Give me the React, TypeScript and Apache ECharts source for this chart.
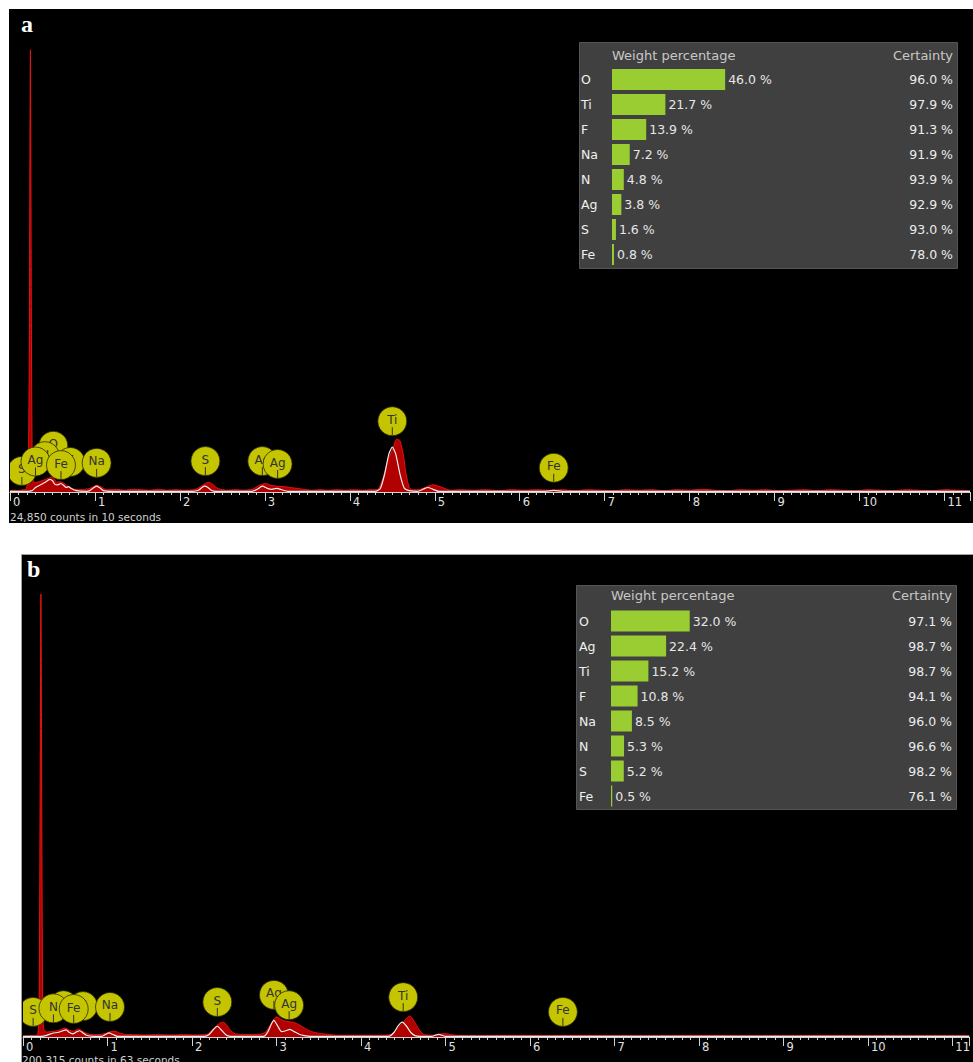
import React, { useEffect, useRef } from "react";
import * as echarts from "echarts";

// ---------- Panel a ----------
// Measured spectrum: [energy keV, intensity as % of full scale]
const measuredA: [number, number][] = [
  [0.0, 0.3], [0.05, 0.4], [0.1, 0.3], [0.15, 0.5], [0.19, 0.6], [0.215, 4], [0.228, 35], [0.24, 98.7], [0.252, 35], [0.262, 6], [0.275, 2.4],
  [0.3, 2.1], [0.34, 2.3], [0.39, 2.6], [0.44, 3.0], [0.49, 3.3], [0.52, 2.9], [0.55, 2.2], [0.59, 2.3], [0.63, 2.0], [0.67, 1.4], [0.71, 1.0], [0.76, 0.6], [0.82, 0.5], [0.88, 0.6],
  [0.94, 0.8], [0.98, 1.2], [1.02, 1.5], [1.06, 1.3], [1.1, 0.8], [1.15, 0.5],
  [1.25, 0.6], [1.35, 0.4], [1.45, 0.6], [1.55, 0.5], [1.65, 0.4], [1.75, 0.6], [1.85, 0.4], [1.95, 0.5], [2.05, 0.4], [2.15, 0.5],
  [2.2, 0.7], [2.25, 1.3], [2.3, 1.9], [2.34, 2.2], [2.38, 1.8], [2.43, 1.0], [2.48, 0.6],
  [2.55, 0.4], [2.65, 0.5], [2.75, 0.4], [2.85, 0.6], [2.9, 1.1], [2.96, 1.7], [3.01, 1.9], [3.07, 1.5], [3.14, 1.3], [3.22, 1.2], [3.3, 1.0], [3.38, 0.8], [3.46, 0.6],
  [3.55, 0.4], [3.65, 0.5], [3.75, 0.4], [3.85, 0.5], [3.95, 0.4], [4.05, 0.5], [4.15, 0.4], [4.25, 0.5], [4.33, 0.6],
  [4.39, 3.1], [4.45, 7.2], [4.51, 9.8], [4.55, 11.8], [4.59, 11.5], [4.63, 8.3], [4.66, 4.2], [4.7, 1.0], [4.74, 0.5],
  [4.8, 0.5], [4.86, 0.8], [4.92, 1.3], [4.98, 1.6], [5.03, 1.4], [5.09, 1.0], [5.13, 0.7], [5.18, 0.4],
  [5.3, 0.5], [5.45, 0.4], [5.6, 0.5], [5.75, 0.3], [5.9, 0.5], [6.05, 0.4], [6.2, 0.5], [6.35, 0.4], [6.5, 0.5], [6.65, 0.3], [6.8, 0.5], [6.95, 0.4],
  [7.1, 0.3], [7.25, 0.5], [7.4, 0.4], [7.55, 0.5], [7.7, 0.3], [7.85, 0.5], [8.0, 0.4], [8.15, 0.6], [8.3, 0.4], [8.45, 0.3], [8.6, 0.5], [8.75, 0.4],
  [8.9, 0.5], [9.05, 0.3], [9.2, 0.4], [9.35, 0.5], [9.5, 0.3], [9.65, 0.5], [9.8, 0.4], [9.95, 0.3], [10.1, 0.5], [10.25, 0.4], [10.4, 0.3], [10.55, 0.5],
  [10.7, 0.4], [10.85, 0.3], [11.0, 0.5], [11.15, 0.4], [11.3, 0.3],
];
// Fitted (calculated) spectrum
const fittedA: [number, number][] = [
  [0.0, 0.15], [0.2, 0.15], [0.26, 0.3], [0.3, 1.0], [0.36, 1.6], [0.41, 2.1], [0.47, 2.8], [0.5, 2.5], [0.53, 1.7], [0.56, 1.6], [0.6, 1.9], [0.63, 1.5],
  [0.66, 1.0], [0.69, 1.2], [0.72, 0.8], [0.78, 0.3], [0.9, 0.15],
  [0.94, 0.3], [0.98, 0.9], [1.02, 1.3], [1.06, 0.9], [1.1, 0.3], [1.2, 0.15],
  [2.15, 0.15], [2.22, 0.4], [2.26, 1.0], [2.29, 1.3], [2.33, 1.0], [2.37, 0.4], [2.42, 0.15],
  [2.85, 0.15], [2.91, 0.6], [2.97, 1.3], [3.03, 0.8], [3.08, 0.6], [3.14, 0.8], [3.2, 0.5], [3.27, 0.15],
  [4.3, 0.15], [4.36, 0.8], [4.41, 4.0], [4.46, 8.5], [4.5, 10.0], [4.54, 8.5], [4.59, 4.0], [4.64, 0.9], [4.7, 0.3],
  [4.8, 0.15], [4.86, 0.6], [4.92, 1.0], [4.98, 0.6], [5.05, 0.15],
  [6.3, 0.15], [6.4, 0.35], [6.5, 0.15], [11.3, 0.15],
];
// Element line markers (drawn back to front)
const markerNamesA = ["O", "N", "F", "S", "Ag", "Fe", "Na", "S", "Ag", "Ag", "Ti", "Fe"];
const markerEnergiesA = [0.51, 0.41, 0.71, 0.14, 0.3, 0.6, 1.02, 2.3, 2.97, 3.15, 4.5, 6.4];
const markerLevelsA = [10.3, 8.0, 6.7, 4.7, 6.8, 6.0, 6.5, 6.9, 6.9, 6.25, 15.8, 5.4];
const countsA = "24,850 counts in 10 seconds";
const elementsA = ["O", "Ti", "F", "Na", "N", "Ag", "S", "Fe"];
const weightA = [46.0, 21.7, 13.9, 7.2, 4.8, 3.8, 1.6, 0.8];
const certaintyA = [96.0, 97.9, 91.3, 91.9, 93.9, 92.9, 93.0, 78.0];

// ---------- Panel b ----------
const measuredB: [number, number][] = [
  [0.0, 0.2], [0.08, 0.3], [0.14, 0.3], [0.175, 0.6], [0.19, 6], [0.2, 40], [0.212, 98.9], [0.224, 40], [0.234, 6], [0.245, 1.8],
  [0.28, 1.1], [0.33, 1.2], [0.38, 1.3], [0.44, 1.6], [0.5, 2.0], [0.55, 1.5], [0.6, 1.3], [0.66, 1.8], [0.71, 1.2], [0.77, 0.7], [0.85, 0.5],
  [0.93, 0.6], [0.99, 0.9], [1.04, 1.2], [1.09, 1.3], [1.14, 0.9], [1.2, 0.6], [1.3, 0.5],
  [1.45, 0.45], [1.6, 0.5], [1.75, 0.45], [1.9, 0.5], [2.05, 0.45], [2.14, 0.5],
  [2.19, 0.7], [2.24, 1.6], [2.29, 2.5], [2.33, 3.1], [2.37, 3.3], [2.41, 2.7], [2.45, 1.6], [2.5, 0.8], [2.56, 0.6],
  [2.65, 0.55], [2.75, 0.6], [2.83, 0.7], [2.88, 1.3], [2.93, 2.8], [2.97, 4.0], [3.0, 4.5], [3.04, 4.1], [3.09, 3.6], [3.15, 3.4], [3.2, 3.3],
  [3.28, 2.6], [3.34, 1.9], [3.4, 1.3], [3.48, 0.9], [3.56, 0.7], [3.65, 0.5], [3.71, 0.4],
  [3.85, 0.4], [4.0, 0.4], [4.15, 0.4], [4.28, 0.4],
  [4.36, 0.6], [4.41, 1.4], [4.45, 2.2], [4.5, 3.3], [4.54, 4.2], [4.58, 4.7], [4.62, 3.8], [4.67, 2.2], [4.71, 1.1], [4.75, 0.5],
  [4.85, 0.4], [4.92, 0.6], [5.0, 0.75], [5.07, 0.5], [5.15, 0.35],
  [5.4, 0.3], [5.8, 0.35], [6.2, 0.3], [6.6, 0.35], [7.0, 0.3], [7.5, 0.3], [8.0, 0.35], [8.5, 0.3], [9.0, 0.3], [9.5, 0.35], [10.0, 0.3], [10.5, 0.3], [11.2, 0.3],
];
const fittedB: [number, number][] = [
  [0.0, 0.15], [0.22, 0.15], [0.27, 0.3], [0.31, 0.6], [0.36, 0.9], [0.41, 1.0], [0.46, 1.3], [0.51, 1.6], [0.55, 1.0], [0.59, 0.7], [0.63, 1.1],
  [0.67, 1.4], [0.71, 0.9], [0.75, 0.4], [0.83, 0.15],
  [0.93, 0.15], [0.98, 0.6], [1.02, 0.9], [1.06, 0.6], [1.12, 0.15],
  [2.15, 0.15], [2.2, 0.5], [2.25, 1.6], [2.3, 2.4], [2.35, 1.5], [2.4, 0.5], [2.45, 0.15],
  [2.85, 0.15], [2.9, 1.2], [2.94, 2.9], [2.97, 3.7], [3.01, 2.6], [3.06, 1.2], [3.11, 1.4], [3.16, 1.7], [3.21, 1.2], [3.27, 0.6], [3.33, 0.3], [3.4, 0.15],
  [4.33, 0.15], [4.39, 1.0], [4.44, 2.5], [4.49, 3.3], [4.54, 2.4], [4.59, 1.0], [4.64, 0.3], [4.7, 0.15],
  [4.84, 0.15], [4.92, 0.6], [5.0, 0.15], [11.2, 0.15],
];
const markerNamesB = ["S", "O", "F", "N", "Fe", "Na", "S", "Ag", "Ag", "Ti", "Fe"];
const markerEnergiesB = [0.12, 0.48, 0.71, 0.36, 0.6, 1.03, 2.3, 2.97, 3.15, 4.5, 6.39];
const markerLevelsB = [5.6, 7.1, 6.9, 6.4, 6.25, 6.7, 7.8, 9.4, 7.1, 8.9, 5.6];
const countsB = "200,315 counts in 63 seconds";
const elementsB = ["O", "Ag", "Ti", "F", "Na", "N", "S", "Fe"];
const weightB = [32.0, 22.4, 15.2, 10.8, 8.5, 5.3, 5.2, 0.5];
const certaintyB = [97.1, 98.7, 98.7, 94.1, 96.0, 96.6, 98.2, 76.1];

const FONT = '"DejaVu Sans", sans-serif';
const AXIS_GRAY = "#d2d2d2";

function markerRenderer(names: string[]) {
  return (params: any, api: any) => {
    const p = api.coord([api.value(0), api.value(1)]);
    return {
      type: "group",
      children: [
        { type: "circle", shape: { cx: p[0], cy: p[1], r: 14.5 }, style: { fill: "#c4c400", stroke: "#2c2c00", lineWidth: 0.8 } },
        { type: "line", shape: { x1: p[0], y1: p[1] + 6, x2: p[0], y2: p[1] + 14 }, style: { stroke: "#333", lineWidth: 1 } },
        {
          type: "text",
          style: { text: names[params.dataIndex], x: p[0], y: p[1] - 1.5, align: "center", verticalAlign: "middle", fill: "#333", fontSize: 12, fontFamily: FONT },
        },
      ],
    };
  };
}

function energyAxis(gridIndex: number, max: number) {
  return {
    gridIndex, type: "value", min: 0, max, interval: 1, position: "bottom",
    axisLine: { show: true, onZero: false, lineStyle: { color: AXIS_GRAY, width: 1 } },
    axisTick: { show: true, inside: false, length: 9, lineStyle: { color: AXIS_GRAY, width: 1 } },
    axisLabel: {
      show: true, margin: 4, align: "left", padding: [0, 0, 0, 3], color: "#e0e0e0", fontSize: 11.5, fontFamily: FONT,
      formatter: (v: number) => (Math.abs(v - Math.round(v)) < 1e-6 ? String(Math.round(v)) : ""),
    },
    splitLine: { show: false },
  };
}

function minorEnergyAxis(gridIndex: number, max: number) {
  return {
    gridIndex, type: "value", min: 0, max, interval: 0.1, position: "bottom",
    axisLine: { show: false },
    axisTick: { show: true, inside: false, length: 3, lineStyle: { color: AXIS_GRAY, width: 1 } },
    axisLabel: { show: false },
    splitLine: { show: false },
  };
}

function tableAxes(gridIndex: number, elements: string[], certainty: number[], leftMargin: number) {
  const common = { gridIndex, type: "category", inverse: true, axisLine: { show: false }, axisTick: { show: false }, splitLine: { show: false } };
  return [
    { ...common, position: "left", data: elements, axisLabel: { align: "left", margin: leftMargin, color: "#f0f0f0", fontSize: 12.5, fontFamily: FONT } },
    {
      ...common, position: "right", data: certainty.map((c) => c.toFixed(1) + " %"),
      axisLabel: { align: "right", margin: 95, color: "#ececec", fontSize: 12.5, fontFamily: FONT },
    },
  ];
}

function spectrumSeries(xi: number, yi: number, measured: [number, number][], fitted: [number, number][], names: string[], energies: number[], levels: number[]) {
  return [
    {
      type: "line", xAxisIndex: xi, yAxisIndex: yi, data: measured, symbol: "none", smooth: 0.2, z: 2,
      lineStyle: { color: "#e81414", width: 1 }, areaStyle: { color: "#b00000", opacity: 1 },
    },
    { type: "line", xAxisIndex: xi, yAxisIndex: yi, data: fitted, symbol: "none", smooth: 0.2, z: 3, lineStyle: { color: "#ececec", width: 1.2 } },
    {
      type: "custom", xAxisIndex: xi, yAxisIndex: yi, clip: true, z: 4,
      data: energies.map((e, i) => [e, levels[i]]), renderItem: markerRenderer(names),
    },
  ];
}

function barSeries(xi: number, yi: number, weights: number[]) {
  return {
    type: "bar", xAxisIndex: xi, yAxisIndex: yi, data: weights, barWidth: 21, z: 3,
    itemStyle: { color: "#9acd32" },
    label: { show: true, position: "right", distance: 3, color: "#e6e6e6", fontSize: 12.5, fontFamily: FONT, formatter: (p: any) => p.value.toFixed(1) + " %" },
  };
}

export default function App() {
  const ref = useRef<HTMLDivElement>(null);

  useEffect(() => {
    if (!ref.current) return;
    const chart = echarts.init(ref.current, null, { renderer: "svg", width: 973, height: 1062 });
    const hidden = { show: false };
    const valueY = (gridIndex: number) => ({ gridIndex, type: "value", min: 0, max: 100, show: false, splitLine: hidden });
    const tableX = (gridIndex: number) => ({ gridIndex, type: "value", min: 0, max: 100, show: false, splitLine: hidden });

    chart.setOption({
      animation: false,
      backgroundColor: "#ffffff",
      grid: [
        { left: 10, top: 44, width: 964, height: 448 },
        { left: 612, top: 67, width: 246, height: 200 },
        { left: 23, top: 589, width: 956, height: 448 },
        { left: 611, top: 608.5, width: 246, height: 200 },
      ],
      xAxis: [
        energyAxis(0, 11.3),
        minorEnergyAxis(0, 11.3),
        tableX(1),
        energyAxis(2, 11.2),
        minorEnergyAxis(2, 11.2),
        tableX(3),
      ],
      yAxis: [
        valueY(0),
        ...tableAxes(1, elementsA, certaintyA, 31),
        valueY(2),
        ...tableAxes(3, elementsB, certaintyB, 32),
      ],
      graphic: [
        { type: "rect", z: -10, shape: { x: 9, y: 9, width: 964, height: 514 }, style: { fill: "#000" } },
        { type: "rect", z: -10, shape: { x: 21.5, y: 554.5, width: 960, height: 520 }, style: { fill: "#000", stroke: "#a0a0a0", lineWidth: 1 } },
        { type: "rect", z: -5, shape: { x: 579.5, y: 42.5, width: 378, height: 226 }, style: { fill: "#404040", stroke: "#555", lineWidth: 1 } },
        { type: "rect", z: -5, shape: { x: 576.5, y: 585.5, width: 380, height: 224 }, style: { fill: "#404040", stroke: "#555", lineWidth: 1 } },
        { type: "text", z: 10, style: { text: "Weight percentage", x: 612, y: 55, verticalAlign: "middle", fill: "#c8c8c8", fontSize: 13, fontFamily: FONT } },
        { type: "text", z: 10, style: { text: "Certainty", x: 953, y: 55, align: "right", verticalAlign: "middle", fill: "#c8c8c8", fontSize: 13, fontFamily: FONT } },
        { type: "text", z: 10, style: { text: "Weight percentage", x: 611, y: 595, verticalAlign: "middle", fill: "#c8c8c8", fontSize: 13, fontFamily: FONT } },
        { type: "text", z: 10, style: { text: "Certainty", x: 952, y: 595, align: "right", verticalAlign: "middle", fill: "#c8c8c8", fontSize: 13, fontFamily: FONT } },
        { type: "text", z: 10, style: { text: countsA, x: 10, y: 517, verticalAlign: "middle", fill: "#d0d0d0", fontSize: 10.5, fontFamily: FONT } },
        { type: "text", z: 10, style: { text: countsB, x: 22, y: 1060, verticalAlign: "middle", fill: "#d0d0d0", fontSize: 10.5, fontFamily: FONT } },
        { type: "text", z: 10, style: { text: "a", x: 21, y: 24, verticalAlign: "middle", fill: "#ffffff", font: 'bold 24px "Liberation Serif", serif' } },
        { type: "text", z: 10, style: { text: "b", x: 27, y: 569, verticalAlign: "middle", fill: "#ffffff", font: 'bold 24px "Liberation Serif", serif' } },
      ],
      series: [
        ...spectrumSeries(0, 0, measuredA, fittedA, markerNamesA, markerEnergiesA, markerLevelsA),
        barSeries(2, 1, weightA),
        ...spectrumSeries(3, 3, measuredB, fittedB, markerNamesB, markerEnergiesB, markerLevelsB),
        barSeries(5, 4, weightB),
      ],
    });
    return () => chart.dispose();
  }, []);

  return <div ref={ref} style={{ position: "absolute", left: 0, top: 0, width: 973, height: 1062, background: "#fff" }} />;
}
